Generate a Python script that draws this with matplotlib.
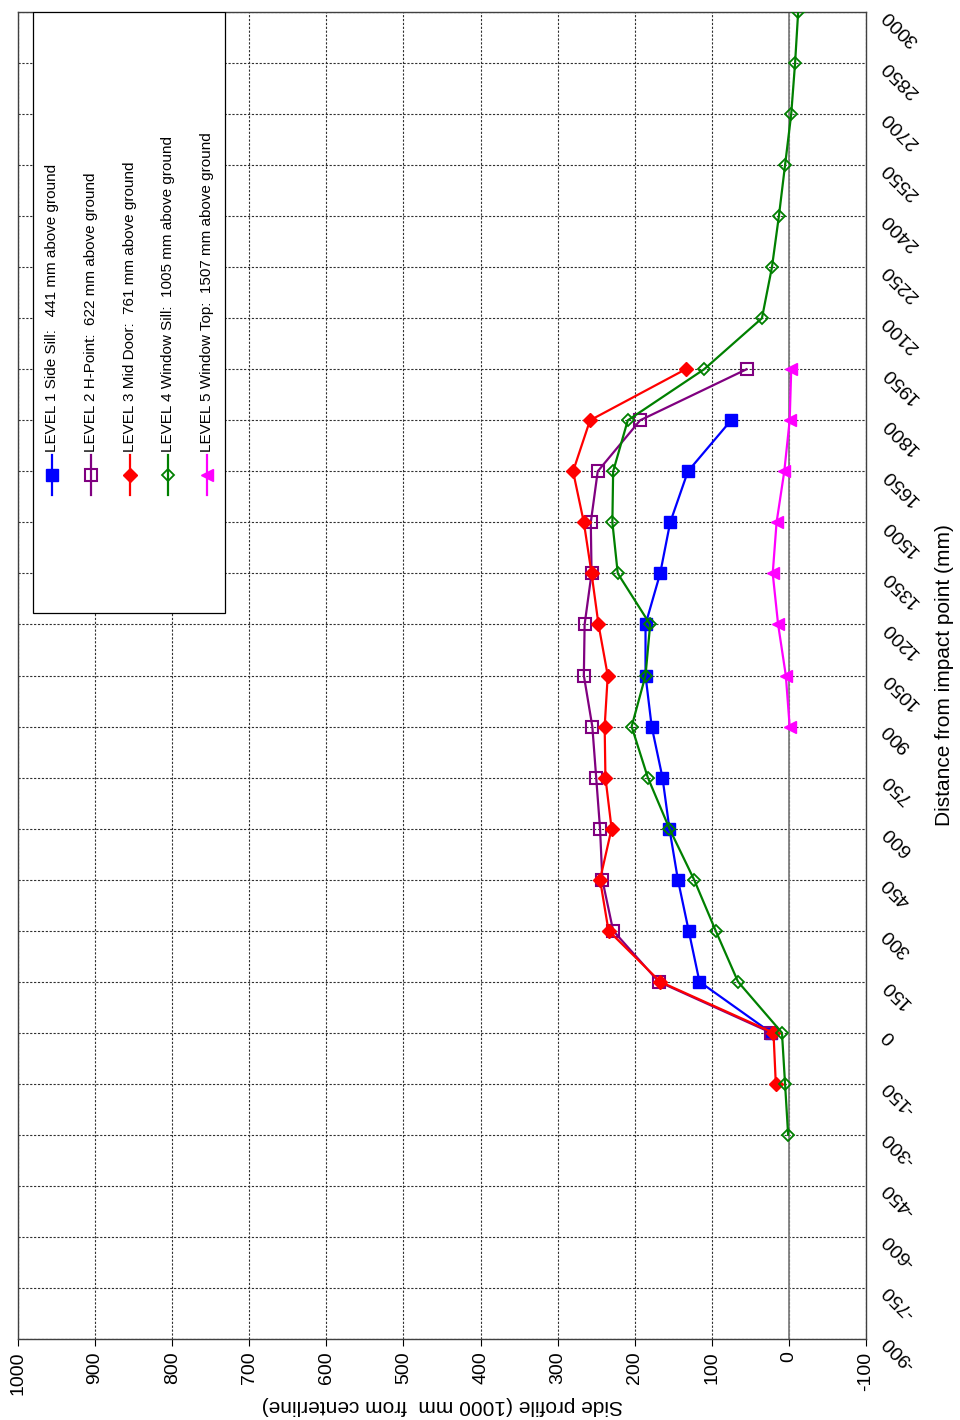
import matplotlib.pyplot as plt
from matplotlib.patches import Rectangle

plt.rcParams['font.family'] = ['Liberation Sans', 'DejaVu Sans']
plt.rcParams['axes.unicode_minus'] = False

# distance from impact point (mm) and side profile values for each level
dist1 = [0, 150, 300, 450, 600, 750, 900, 1050, 1200, 1350, 1500, 1650, 1800]
level1 = [23, 116, 130, 144, 155, 164, 178, 186, 186, 167, 154, 131, 75]

dist2 = [0, 150, 300, 450, 600, 750, 900, 1050, 1200, 1350, 1500, 1650, 1800, 1950]
level2 = [23, 169, 228, 242, 245, 250, 255, 266, 265, 256, 257, 248, 193, 55]

dist3 = [-150, 0, 150, 300, 450, 600, 750, 900, 1050, 1200, 1350, 1500, 1650, 1800, 1950]
level3 = [17, 20, 167, 234, 245, 230, 238, 239, 235, 247, 256, 266, 280, 258, 134]

dist4 = [-300, -150, 0, 150, 300, 450, 600, 750, 900, 1050, 1200, 1350, 1500, 1650,
         1800, 1950, 2100, 2250, 2400, 2550, 2700, 2850, 3000]
level4 = [1, 5, 9, 66, 95, 123, 155, 183, 204, 186, 180, 222, 229, 228,
          209, 110, 35, 22, 13, 5, -3, -8, -12]

dist5 = [900, 1050, 1200, 1350, 1500, 1650, 1800, 1950]
level5 = [-1, 4, 14, 21, 16, 6, -1, -3]

labels = ['LEVEL 1 Side Sill:   441 mm above ground',
          'LEVEL 2 H-Point:  622 mm above ground',
          'LEVEL 3 Mid Door:  761 mm above ground',
          'LEVEL 4 Window Sill:  1005 mm above ground',
          'LEVEL 5 Window Top:  1507 mm above ground']

fig = plt.figure(figsize=(9.6, 14.2), dpi=100)
ax = fig.add_axes([18/960, 1-1339/1420, 848/960, 1327/1420])

# chart is drawn turned on its side: profile runs right-to-left, distance bottom-to-top
styles = [
    dict(color='#0000ff', marker='s', ms=8.5, mfc='#0000ff', mec='#0000ff'),
    dict(color='#800080', marker='s', ms=8.5, mfc='none', mec='#800080', mew=1.5),
    dict(color='#ff0000', marker='D', ms=7, mfc='#ff0000', mec='#ff0000'),
    dict(color='#008000', marker='D', ms=6.5, mfc='none', mec='#008000', mew=1.3),
    dict(color='#ff00ff', marker='<', ms=8.5, mfc='#ff00ff', mec='#ff00ff'),
]
series = [(dist1, level1), (dist2, level2), (dist3, level3), (dist4, level4), (dist5, level5)]
for (d, v), st in zip(series, styles):
    ax.plot(v, d, lw=1.6, zorder=3, **st)

ax.axvline(0, color='#808080', lw=1.3, zorder=2)

ax.set_xlim(1000, -100)
ax.set_ylim(-900, 3000)
ax.set_xticks(range(-100, 1001, 100))
ax.set_yticks(range(-900, 3001, 150))
ax.grid(True, color='#303030', linestyle=(0, (2, 1.5)), lw=0.8, zorder=1)
ax.set_axisbelow(True)

ax.yaxis.tick_right()
ax.yaxis.set_label_position('right')
ax.tick_params(axis='x', direction='out', length=5, labelsize=14, pad=4)
ax.tick_params(axis='y', length=0, labelsize=14, pad=14)
plt.setp(ax.get_xticklabels(), rotation=90, ha='center', va='top')
plt.setp(ax.get_yticklabels(), rotation=135, ha='right', va='center', rotation_mode='anchor')

ax.set_xlabel('Side profile (1000 mm  from centerline)', rotation=180, fontsize=15, labelpad=1)
ax.set_ylabel('Distance from impact point (mm)', rotation=90, fontsize=15, labelpad=9)

for s in ax.spines.values():
    s.set_color('#404040')
    s.set_linewidth(1)

# legend box, laid out sideways like the chart
ax.add_patch(Rectangle((15/848, (1339-613)/1327), 192/848, 1-(1339-613)/1327,
                       transform=ax.transAxes, facecolor='white', edgecolor='black',
                       lw=0.9, zorder=5))
leg_x = [52, 91, 130, 168, 207]
for px, st, lab in zip(leg_x, styles, labels):
    xf = (px - 18) / 848
    y0 = (1339 - 495) / 1327
    y1 = (1339 - 455) / 1327
    ym = (1339 - 475) / 1327
    ax.plot([xf, xf], [y0, y1], transform=ax.transAxes, color=st['color'], lw=1.6,
            zorder=6, clip_on=False)
    ax.plot([xf], [ym], transform=ax.transAxes, zorder=7, clip_on=False,
            **{k: v for k, v in st.items() if k != 'color'}, color=st['color'])
    ax.text(xf, (1339 - 452) / 1327, lab, transform=ax.transAxes, rotation=90,
            ha='center', va='bottom', fontsize=11, zorder=7)

fig.savefig('out.png', dpi=100)
